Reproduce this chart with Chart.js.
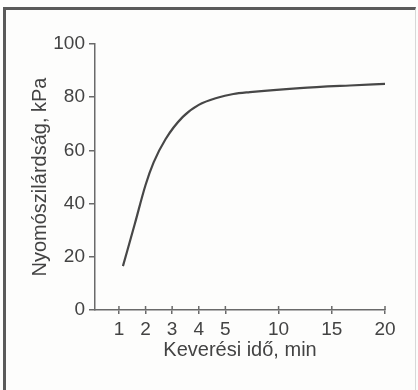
<!DOCTYPE html>
<html>
<head>
<meta charset="utf-8">
<script src="https://cdn.jsdelivr.net/npm/chart.js@4"></script>
<style>
  body { margin: 0; background: #fff; }
  .wrap { position: relative; width: 418px; height: 390px; background: #fdfdfc; overflow: hidden; }
  .frame {
    position: absolute; left: 3px; top: 7px; width: 409px; height: 400px;
    border-left: 3px solid #5a5a5a; border-top: 3px solid #5a5a5a; border-right: 1px solid #d8d8d8;
    pointer-events: none;
  }
  canvas { position: absolute; left: 0; top: 0; }
</style>
</head>
<body>
<div class="wrap">
  <canvas id="strengthChart" width="418" height="390"></canvas>
  <div class="frame"></div>
</div>
<script>
// Mixing time (min) vs. compressive strength (kPa)
const mixTime  = [1.15, 1.6, 2.0, 2.3, 2.75, 3.4, 4.0, 4.7, 5.75, 7.3, 12, 16.7, 20];
const strength = [16.5, 32.5, 47, 55.4, 64.2, 72.6, 77.1, 79.8, 81.2, 81.9, 83.4, 84.4, 85];

const tickMinutes = [1, 2, 3, 4, 5, 10, 15, 20];
const tickLabels  = ['1', '2', '3', '4', '5', '10', '15', '20'];

// axis is stretched below 5 min: one unit per minute, then one unit per 2.5 min
function toAxis(m) {
    return m <= 5 ? m : 5 + (m - 5) / 2.5;
}

const textColor = '#434343';
const axisColor = '#6a6a6a';

// small marks on the inner side of the x axis, so ticks cross the line
const crossTicks = {
    id: 'crossTicks',
    afterDraw(chart) {
        const x = chart.scales.x;
        const c = chart.ctx;
        c.save();
        c.strokeStyle = axisColor;
        c.lineWidth = 1.5;
        x.ticks.forEach(t => {
            const px = x.getPixelForValue(t.value);
            c.beginPath();
            c.moveTo(px, x.top - 4);
            c.lineTo(px, x.top);
            c.stroke();
        });
        c.restore();
    }
};

new Chart(document.getElementById('strengthChart'), {
    type: 'line',
    data: {
        datasets: [{
            data: mixTime.map((m, i) => ({ x: toAxis(m), y: strength[i] })),
            borderColor: '#474747',
            borderWidth: 2.2,
            pointRadius: 0,
            cubicInterpolationMode: 'monotone',
            fill: false
        }]
    },
    options: {
        responsive: false,
        animation: false,
        layout: { padding: { top: 44, right: 33, left: 0, bottom: 0 } },
        plugins: { legend: { display: false }, tooltip: { enabled: false } },
        scales: {
            x: {
                type: 'linear',
                min: 0.1,
                max: 11,
                afterBuildTicks: scale => {
                    scale.ticks = tickMinutes.map(m => ({ value: toAxis(m) }));
                },
                afterFit: scale => { scale.height = 80; },
                ticks: {
                    callback: (v, i) => tickLabels[i],
                    color: textColor,
                    font: { family: 'Liberation Sans, Arial', size: 19 },
                    padding: 4,
                    maxRotation: 0,
                    autoSkip: false
                },
                grid: { drawOnChartArea: false, tickLength: 4, color: axisColor, lineWidth: 1.5 },
                border: { color: axisColor, width: 1.5 },
                title: {
                    display: true,
                    text: 'Keverési idő, min',
                    color: textColor,
                    font: { family: 'Liberation Sans, Arial', size: 20 },
                    padding: { top: 0, bottom: 28 }
                }
            },
            y: {
                min: 0,
                max: 100,
                afterFit: scale => { scale.width = 95; },
                ticks: {
                    stepSize: 20,
                    color: textColor,
                    font: { family: 'Liberation Sans, Arial', size: 19 },
                    padding: 4
                },
                grid: { drawOnChartArea: false, tickLength: 6, color: axisColor, lineWidth: 1.5 },
                border: { color: axisColor, width: 1.5 },
                title: {
                    display: true,
                    text: 'Nyomószilárdság, kPa',
                    color: textColor,
                    font: { family: 'Liberation Sans, Arial', size: 20 },
                    padding: { top: 28, bottom: 0 }
                }
            }
        }
    },
    plugins: [crossTicks]
});
</script>
</body>
</html>
